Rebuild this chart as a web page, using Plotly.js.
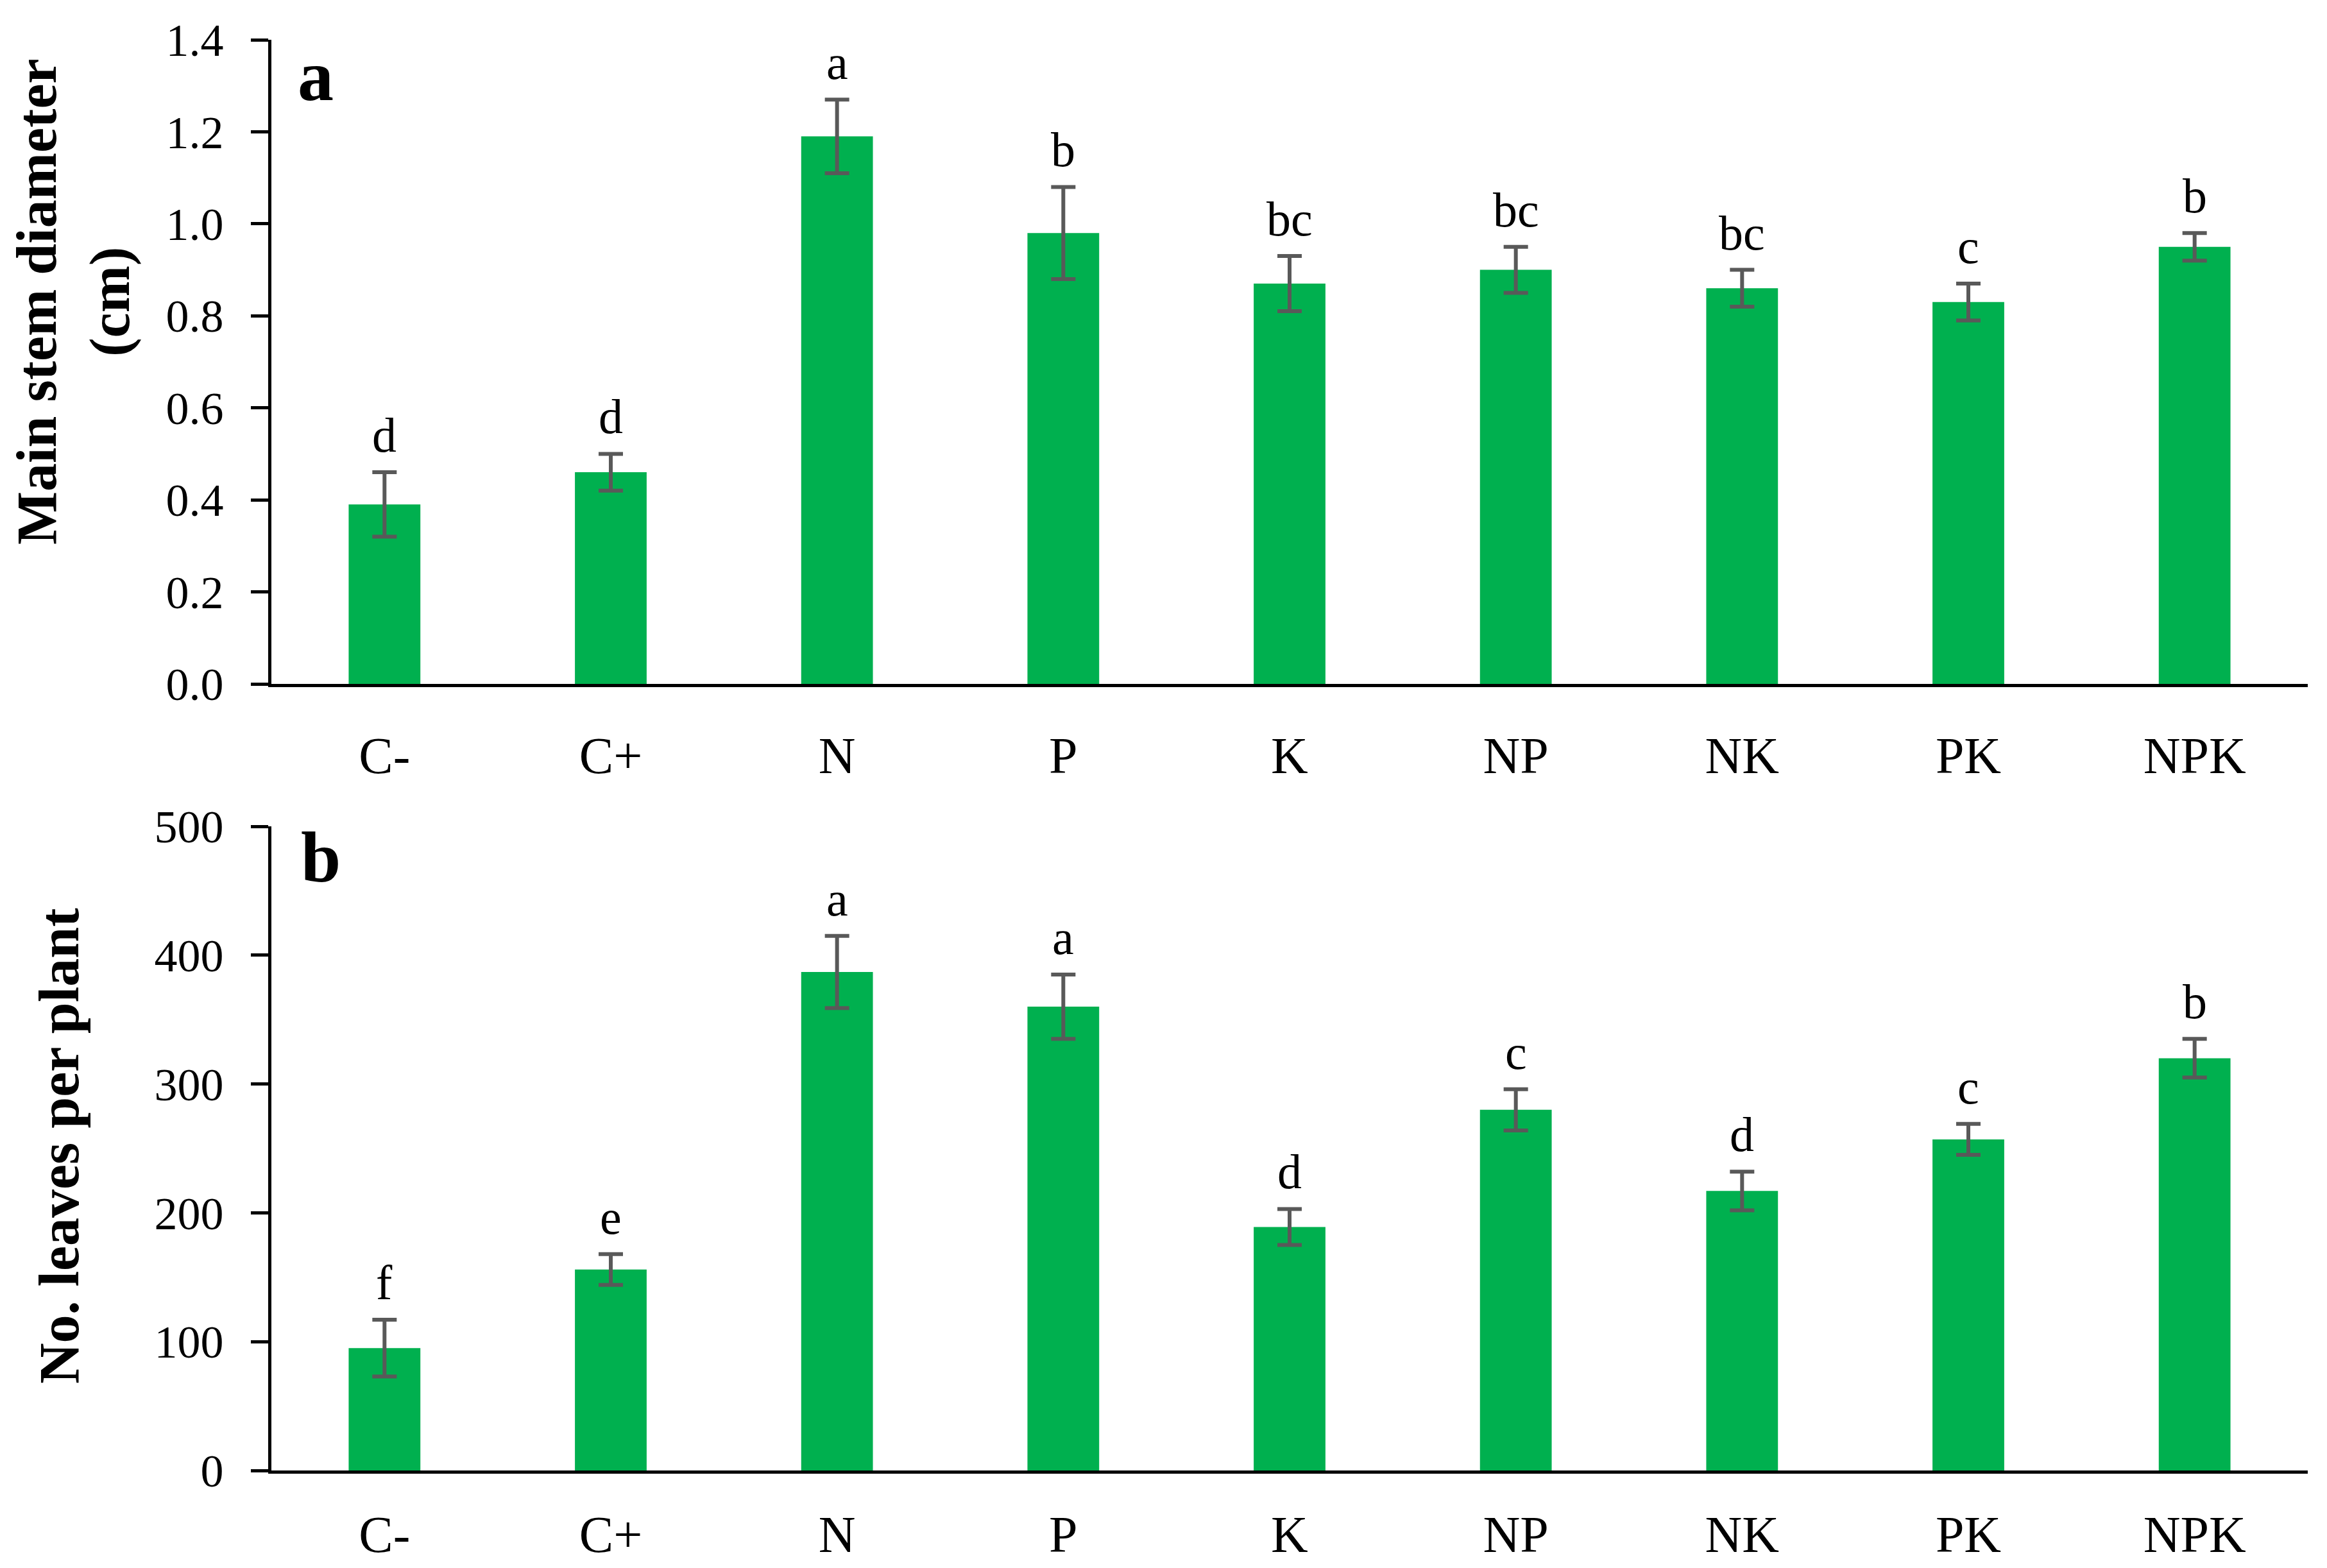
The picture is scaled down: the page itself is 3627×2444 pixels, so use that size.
<!DOCTYPE html>
<html>
<head>
<meta charset="utf-8">
<script src="https://cdn.plot.ly/plotly-3.0.1.min.js"></script>
<style>
  html, body { margin: 0; padding: 0; background: #fff; }
  #chart { width: 3627px; height: 2444px; }
</style>
</head>
<body>
<div id="chart"></div>
<script>
// treatments
const treatments = ['C-', 'C+', 'N', 'P', 'K', 'NP', 'NK', 'PK', 'NPK'];

// panel a: main stem diameter (cm)
const stemMean = [0.39, 0.46, 1.19, 0.98, 0.87, 0.90, 0.86, 0.83, 0.95];
const stemErr  = [0.07, 0.04, 0.08, 0.10, 0.06, 0.05, 0.04, 0.04, 0.03];
const stemLetters = ['d', 'd', 'a', 'b', 'bc', 'bc', 'bc', 'c', 'b'];

// panel b: number of leaves per plant
const leafMean = [95, 156, 387, 360, 189, 280, 217, 257, 320];
const leafErr  = [22, 12, 28, 25, 14, 16, 15, 12, 15];
const leafLetters = ['f', 'e', 'a', 'a', 'd', 'c', 'd', 'c', 'b'];

const W = 3627, H = 2444;
const FONT = 'Palatino Linotype, Book Antiqua, Palatino, Liberation Serif, serif';
const GREEN = '#00B04F';
const ERRCOL = '#595959';

// pixel helpers -> paper fractions
const px = v => v / W;
const py = v => 1 - v / H;

function barTrace(y, err, xa, ya) {
    return {
        type: 'bar',
        x: treatments,
        y: y,
        xaxis: xa,
        yaxis: ya,
        marker: { color: GREEN },
        error_y: { type: 'data', array: err, visible: true, color: ERRCOL, thickness: 6, width: 19 },
        hoverinfo: 'x+y'
    };
}

// significance letters above error bars
let annotations = [];
function addLetters(means, errs, letters, xa, ya) {
    for (let i = 0; i < treatments.length; i++) {
        annotations.push({
            x: treatments[i], y: means[i] + errs[i], xref: xa, yref: ya,
            text: letters[i], showarrow: false, xanchor: 'center', yanchor: 'bottom', yshift: 14,
            font: { family: FONT, size: 76, color: '#000' }
        });
    }
}
addLetters(stemMean, stemErr, stemLetters, 'x', 'y');
addLetters(leafMean, leafErr, leafLetters, 'x2', 'y2');

// free text placed in page pixels
function label(text, x, y, size, angle) {
    annotations.push({ x: px(x), y: py(y), xref: 'paper', yref: 'paper', text: text,
        xanchor: 'center', yanchor: 'middle', textangle: angle || 0, showarrow: false,
        font: { family: FONT, size: size, color: '#000' } });
}
label('<b>a</b>', 492, 118, 112);
label('<b>b</b>', 500, 1336, 112);
label('<b>Main stem diameter</b><br><b>(cm)</b>', 115, 470, 88, -90);
label('<b>No. leaves per plant</b>', 92, 1787, 88, -90);

const xDomain = [px(423), px(3597)];

function xAxis(anchor, standoff) {
    return {
        domain: xDomain, anchor: anchor, type: 'category',
        range: [-0.5, 8.5],
        showline: true, linecolor: '#000', linewidth: 5,
        ticks: '', showgrid: false, zeroline: false,
        ticklabelstandoff: standoff,
        tickfont: { family: FONT, size: 80, color: '#000' }
    };
}
function yAxis(anchor, domain, range, dtick, fmt) {
    return {
        domain: domain, anchor: anchor, range: range, dtick: dtick, tickformat: fmt,
        showline: true, linecolor: '#000', linewidth: 5,
        ticks: 'outside', ticklen: 27, tickwidth: 5, tickcolor: '#000',
        showgrid: false, zeroline: false,
        ticklabelstandoff: 28,
        tickfont: { family: FONT, size: 72, color: '#000' }
    };
}

const layout = {
    width: W, height: H,
    margin: { l: 0, r: 0, t: 0, b: 0 },
    paper_bgcolor: '#fff', plot_bgcolor: '#fff',
    showlegend: false,
    bargap: 0.683,
    xaxis: xAxis('y', 38),
    yaxis: yAxis('x', [py(1066), py(62)], [0, 1.4], 0.2, '.1f'),
    xaxis2: xAxis('y2', 26),
    yaxis2: yAxis('x2', [py(2292), py(1288)], [0, 500], 100, 'd'),
    annotations: annotations
};

Plotly.newPlot('chart', [
    barTrace(stemMean, stemErr, 'x', 'y'),
    barTrace(leafMean, leafErr, 'x2', 'y2')
], layout, { staticPlot: true });
</script>
</body>
</html>
